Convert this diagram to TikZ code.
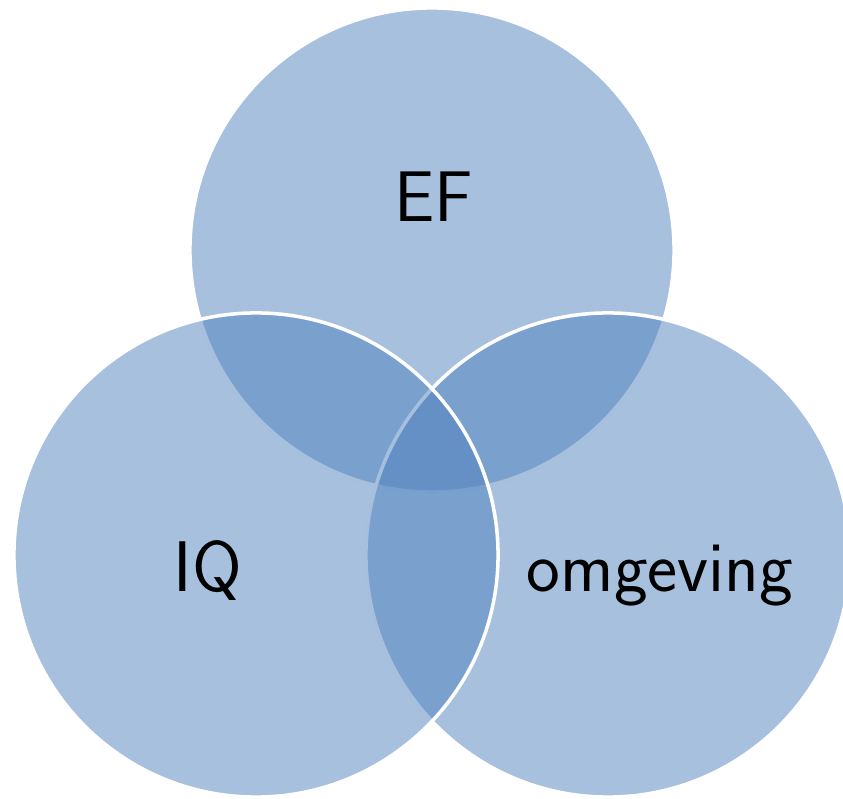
\documentclass[tikz,border=0pt]{standalone}
\usepackage{tikz}
\usetikzlibrary{positioning}
\definecolor{vnblue}{HTML}{4F81BD}
\tikzset{
  venn/.style  ={circle, fill=vnblue, fill opacity=0.5, draw=white, draw opacity=1,
                 line width=2.5pt, minimum size=12.1cm, inner sep=0pt},
  vlabel/.style={font=\sffamily\fontsize{51}{61}\selectfont, text=black, anchor=base},
}
\begin{document}
\begin{tikzpicture}[x=0.025cm,y=0.025cm]
    \useasboundingbox (0,0) rectangle (843,798);
    % --- circles (top, right, left) ---
    \node[venn] (ef) at (432,548) {};
    \node[venn] (om) at (608,243) {};
    \node[venn] (iq) at (256,243) {};
    % --- labels ---
    \node[vlabel] (efl) at (434,576) {EF};
    \node[vlabel] (iql) at (208,206) {IQ};
    \node[vlabel] (oml) at (660,206) {omgeving};
\end{tikzpicture}
\end{document}
